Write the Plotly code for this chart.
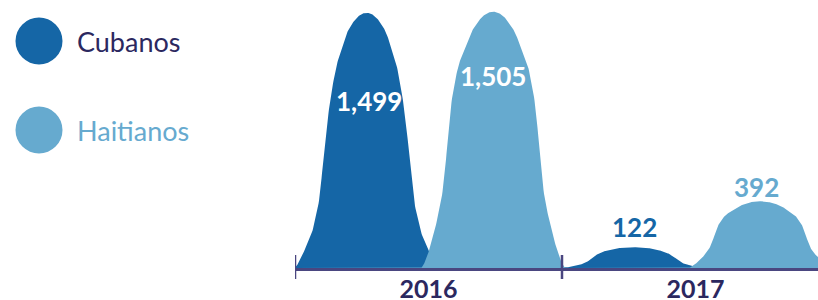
import numpy as np
import plotly.graph_objects as go

# ---- data ----
years = ["2016", "2017"]
series_names = ["Cubanos", "Haitianos"]
cubanos = [1499, 122]
haitianos = [1505, 392]

# ---- styles ----
colors = {"Cubanos": "#1566A6", "Haitianos": "#66AACF"}
navy = "#2B285F"
axis_col = "#4A4680"
centers = {"Cubanos": 0.268, "Haitianos": 0.742}   # bump position inside a group
# bump outline: relative height -> half-width in px (shape style, not data)
profile_f = [1.0, 0.995, 0.98, 0.95, 0.919, 0.789, 0.658, 0.528, 0.397, 0.266, 0.136, 0.043, 0.0]
profile_hw = {
    "Cubanos":   [0, 5, 10, 15.7, 20, 30.5, 36.5, 40.5, 44, 47, 54.5, 65, 71],
    "Haitianos": [0, 5.5, 11, 17, 22, 35, 41.5, 45, 47.5, 51.5, 59, 66, 71],
}
label_shift = {  # (xshift, yshift) in px for value labels, per series per year
    "Cubanos": [(2, -88), (1, 20)],
    "Haitianos": [(0, -64), (-4, 14)],
}
label_inside = {"Cubanos": [True, False], "Haitianos": [True, False]}

W, H = 818, 300
x0_px, group_px = 295, 267
base_px = 268
x_max = (W - x0_px) / group_px
peak_ref = max(cubanos + haitianos)
y_top = peak_ref * base_px / (base_px - 11.5)

xs = np.linspace(0, x_max, 2 * (W - x0_px) + 1)


def bump_curve(values, c, hw):
    hw_arr = np.array(hw, dtype=float)
    f_arr = np.array(profile_f, dtype=float)
    y = np.zeros_like(xs)
    for i, v in enumerate(values):
        d = np.abs(xs - (i + c)) * group_px
        y += v * np.interp(d, hw_arr, f_arr)
    # soften the polygon kinks a little
    k = np.exp(-0.5 * (np.arange(-6, 7) / 2.5) ** 2)
    k /= k.sum()
    return np.convolve(np.pad(y, 6, mode="edge"), k, mode="valid")


fig = go.Figure()
for name, vals in zip(series_names, [cubanos, haitianos]):
    fig.add_trace(go.Scatter(
        x=xs, y=bump_curve(vals, centers[name], profile_hw[name]),
        mode="lines",
        line=dict(width=0, color=colors[name]), fill="tozeroy",
        fillcolor=colors[name], name=name, hoverinfo="skip", showlegend=False,
    ))
    for i, v in enumerate(vals):
        dx, dy = label_shift[name][i]
        inside = label_inside[name][i]
        fig.add_annotation(
            x=i + centers[name], y=v, xref="x", yref="y",
            text=f"<b>{v:,}</b>", showarrow=False,
            xshift=dx, yshift=dy,
            font=dict(family="Lato", size=26,
                      color="white" if inside else colors[name]),
        )

# ticks crossing axis line
for k in range(len(years) + 1):
    fig.add_shape(type="line", xref="x", yref="paper", x0=k, x1=k,
                  y0=(H - 279) / H, y1=(H - 255) / H,
                  line=dict(color=axis_col, width=2.5))

# custom legend
leg_y = [41, 130]
for name, ly in zip(series_names, leg_y):
    r = 23.5
    fig.add_shape(type="circle", xref="paper", yref="paper",
                  x0=(39 - r) / W, x1=(39 + r) / W,
                  y0=(H - ly - r) / H, y1=(H - ly + r) / H,
                  fillcolor=colors[name], line=dict(width=0))
    fig.add_annotation(x=75 / W, y=(H - ly) / H, xref="paper", yref="paper",
                       text=name, showarrow=False, xanchor="left", yanchor="middle",
                       font=dict(family="Lato", size=27,
                                 color=navy if name == "Cubanos" else colors[name]))

fig.update_layout(
    width=W, height=H,
    margin=dict(l=0, r=0, t=0, b=0, autoexpand=False),
    paper_bgcolor="white", plot_bgcolor="white",
    xaxis=dict(domain=[x0_px / W, 1], range=[0, x_max], automargin=False,
               tickvals=[i + 0.5 for i in range(len(years))], ticktext=years,
               showgrid=False, zeroline=False, showline=True,
               linecolor=axis_col, linewidth=3, ticks="",
               ticklabelstandoff=-3,
               tickfont=dict(family="Lato", size=25, color=navy, weight="bold"),
               fixedrange=True),
    yaxis=dict(domain=[(H - base_px) / H, 1], range=[0, y_top], automargin=False,
               showgrid=False, zeroline=False, showticklabels=False,
               showline=False, fixedrange=True),
)

fig.write_html("out.html", config={"displayModeBar": False},
               post_script="document.body.style.margin='0';")
